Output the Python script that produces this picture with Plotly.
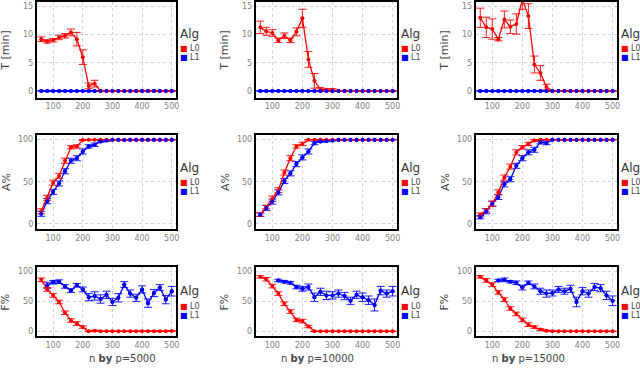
import plotly.graph_objects as go

# problem size n (x axis)
N = [60, 80, 100, 120, 140, 160, 180, 200, 220, 240, 260, 280,
     300, 320, 340, 360, 380, 400, 420, 440, 460, 480, 500]

P_LABELS = ["p=5000", "p=10000", "p=15000"]

# ---- T [min] ----
T_L0_5000 = [9.2, 8.8, 9.0, 9.5, 9.8, 10.4, 9.2, 6.0, 0.9, 1.3, 0, 0,
             0, 0, 0, 0, 0, 0, 0, 0, 0, 0, 0]
T_L0_5000_err = [0.4, 0.3, 0.3, 0.4, 0.4, 0.6, 1.2, 1.3, 0.5, 0.6, 0, 0,
                 0, 0, 0, 0, 0, 0, 0, 0, 0, 0, 0]
T_L0_10000 = [11.3, 10.6, 10.3, 9.0, 9.8, 9.0, 10.5, 12.9, 5.6, 1.8, 0.3, 0.2,
              0.2, 0.05, 0, 0, 0, 0, 0, 0, 0, 0, 0]
T_L0_10000_err = [1.1, 0.7, 0.6, 0.4, 0.5, 0.4, 0.7, 1.6, 1.4, 1.3, 0.3, 0.2,
                  0.2, 0.05, 0, 0, 0, 0, 0, 0, 0, 0, 0]
T_L0_15000 = [13.0, 11.3, 11.0, 9.2, 12.7, 11.4, 11.9, 16.3, 13.3, 4.7, 3.2, 0.7,
              0, 0, 0, 0, 0, 0, 0, 0, 0, 0, 0]
T_L0_15000_err = [1.7, 1.8, 1.8, 0.3, 1.5, 1.2, 1.8, 1.8, 2.2, 1.5, 1.3, 0.5,
                  0, 0, 0, 0, 0, 0, 0, 0, 0, 0, 0]
T_L1 = [0, 0, 0, 0, 0, 0, 0, 0, 0, 0, 0, 0,
        0, 0, 0, 0, 0, 0, 0, 0, 0, 0, 0]
T_L1_err = [0.05, 0.05, 0.05, 0.05, 0.05, 0.05, 0.05, 0.05, 0.05, 0.05, 0.05, 0.05,
            0.05, 0.05, 0.05, 0.05, 0.05, 0.05, 0.05, 0.05, 0.05, 0.05, 0.05]

# ---- A% ----
A_L0_5000 = [15, 31, 49, 57, 75, 91, 92, 99.6, 100, 100, 100, 100,
             100, 100, 100, 100, 100, 100, 100, 100, 100, 100, 100]
A_L0_5000_err = [3, 3, 3, 3, 3, 2, 2, 0.5, 0, 0, 0, 0,
                 0, 0, 0, 0, 0, 0, 0, 0, 0, 0, 0]
A_L1_5000 = [12, 27, 38, 48, 62.5, 75, 78, 86, 92, 94, 98, 99,
             100, 100, 99.5, 100, 100, 100, 100, 100, 100, 100, 100]
A_L1_5000_err = [3, 3, 3, 3, 3, 3, 3, 3, 2, 2, 1, 1,
                 0, 0, 0.5, 0, 0, 0, 0, 0, 0, 0, 0]
A_L0_10000 = [11, 20, 30, 40, 61, 78, 92, 95, 100, 100, 100, 100,
              100, 100, 100, 100, 100, 100, 100, 100, 100, 100, 100]
A_L0_10000_err = [2, 2, 3, 3, 3, 3, 2, 2, 0, 0, 0, 0,
                  0, 0, 0, 0, 0, 0, 0, 0, 0, 0, 0]
A_L1_10000 = [11, 19, 26.5, 37.5, 51, 60, 71, 79, 86, 96, 98, 98.5,
              99, 100, 100, 100, 100, 100, 100, 100, 100, 100, 100]
A_L1_10000_err = [2, 3, 3, 3, 3, 3, 3, 3, 3, 2, 1, 1,
                  0.5, 0, 0, 0, 0, 0, 0, 0, 0, 0, 0]
A_L0_15000 = [11, 16, 24, 37.5, 55, 68, 85, 91, 95, 99, 100, 100,
              100, 100, 100, 100, 100, 100, 100, 100, 100, 100, 100]
A_L0_15000_err = [2, 2, 3, 3, 3, 3, 3, 2, 2, 1, 0, 0,
                  0, 0, 0, 0, 0, 0, 0, 0, 0, 0, 0]
A_L1_15000 = [8, 15, 24, 32, 47, 53, 69, 78, 85, 88, 97, 96,
              100, 100, 100, 100, 100, 100, 100, 100, 100, 100, 100]
A_L1_15000_err = [2, 3, 3, 3, 3, 3, 3, 3, 3, 3, 2, 2,
                  0, 0, 0, 0, 0, 0, 0, 0, 0, 0, 0]

# ---- F% ----
F_L0_5000 = [86, 70, 60, 49, 31, 18, 13, 7, 0, 1, 0, 0,
             0, 0, 0, 0, 0, 0, 0, 0, 0, 0, 0.5]
F_L0_5000_err = [3, 3, 3, 3, 3, 3, 3, 2, 0.5, 1, 0, 0,
                 0, 0, 0, 0, 0, 0, 0, 0, 0, 0, 0.5]
F_L1_5000 = [None, 77, 82, 83, 75, 68, 77, 70, 57, 59, 54, 61,
             49, 56, 78, 63, 56, 70, 47, 64, 73, 53, 67]
F_L1_5000_err = [None, 5, 3, 3, 3, 3, 3, 4, 6, 7, 7, 6,
                 6, 7, 5, 6, 6, 6, 7, 6, 5, 7, 8]
F_L0_10000 = [91, 87, 75.5, 63, 46, 33, 19, 17, 8, 0, 0, 0,
              0, 0, 0, 0, 0, 0, 0, 0, 0, 0, 0]
F_L0_10000_err = [2, 3, 3, 3, 3, 3, 3, 3, 2, 0, 0, 0,
                  0, 0, 0, 0, 0, 0, 0, 0, 0, 0, 0]
F_L1_10000 = [None, None, None, 85, 83, 81, 74, 71, 74, 57, 66, 60,
              60, 63, 59, 51, 61, 57, 52, 44, 68, 63, 67]
F_L1_10000_err = [None, None, None, 2, 2, 2, 3, 4, 5, 7, 6, 7,
                  6, 6, 6, 6, 6, 7, 7, 10, 7, 6, 8]
F_L0_15000 = [91, 85, 78, 65, 53, 38, 29, 19, 11, 7, 3, 1,
              0, 0, 0, 0, 0, 0, 0, 0, 0, 0, 0]
F_L0_15000_err = [2, 3, 3, 3, 3, 3, 3, 3, 3, 2, 1.5, 1,
                  0, 0, 0, 0, 0, 0, 0, 0, 0, 0, 0]
F_L1_15000 = [None, None, None, 85, 86, 83, 81, 73, 81, 75, 67, 63,
              64, 70, 67, 71, 49, 67, 63, 74, 72, 60, 51]
F_L1_15000_err = [None, None, None, 2, 3, 2, 3, 4, 3, 4, 5, 6,
                  5, 5, 5, 6, 8, 6, 6, 6, 6, 7, 8]

ROWS = [
    ("T [min]", [-1.2, 15.8], [0, 5, 10, 15],
     [(T_L0_5000, T_L0_5000_err, T_L1, T_L1_err),
      (T_L0_10000, T_L0_10000_err, T_L1, T_L1_err),
      (T_L0_15000, T_L0_15000_err, T_L1, T_L1_err)]),
    ("A%", [-6.5, 106], [0, 50, 100],
     [(A_L0_5000, A_L0_5000_err, A_L1_5000, A_L1_5000_err),
      (A_L0_10000, A_L0_10000_err, A_L1_10000, A_L1_10000_err),
      (A_L0_15000, A_L0_15000_err, A_L1_15000, A_L1_15000_err)]),
    ("F%", [-8, 107], [0, 50, 100],
     [(F_L0_5000, F_L0_5000_err, F_L1_5000, F_L1_5000_err),
      (F_L0_10000, F_L0_10000_err, F_L1_10000, F_L1_10000_err),
      (F_L0_15000, F_L0_15000_err, F_L1_15000, F_L1_15000_err)]),
]

W, H = 640, 368
COL_PX = [(37, 177), (257, 399), (478, 620)]
ROW_PX = [(1, 97), (134, 229), (267, 336)]
LEGEND_Y = [33, 167, 291]   # pixel row of the "Alg" legend title per row
LABEL_X = [333, 250, 222]   # facet label centre, in x data units of each column
RED, BLUE = "#FF0000", "#0000FF"
FONT = "DejaVu Sans"

fig = go.Figure()
annotations = []

for r, (ytitle, yrange, yticks, panels) in enumerate(ROWS):
    for c, (l0, l0e, l1, l1e) in enumerate(panels):
        i = r * 3 + c + 1
        xa, ya = f"x{i}", f"y{i}"
        # blue first, red on top, then blue points again (lines under points)
        for vals, errs, col, mode in [(l1, l1e, BLUE, "lines+markers"),
                                      (l0, l0e, RED, "lines+markers"),
                                      (l1, None, BLUE, "markers")]:
            fig.add_trace(go.Scatter(
                x=N, y=vals, xaxis=xa, yaxis=ya, mode=mode,
                line=dict(color=col, width=1.3),
                marker=dict(color=col, size=4),
                error_y=dict(type="data", array=errs, color=col,
                             thickness=0.9, width=4, visible=errs is not None),
                showlegend=False,
            ))
        x0, x1 = COL_PX[c]
        y0, y1 = ROW_PX[r]
        axis_common = dict(showline=True, mirror=True, linecolor="black",
                           linewidth=2, showgrid=True, gridcolor="#cdd0e6",
                           griddash="dot", gridwidth=1, zeroline=False,
                           ticks="", tickfont=dict(size=8, color="#7f7f7f",
                                                   family=FONT))
        fig.layout[f"xaxis{i}"] = dict(
            domain=[x0 / W, x1 / W], anchor=ya, range=[45, 515],
            tickvals=[100, 200, 300, 400, 500], **axis_common)
        fig.layout[f"yaxis{i}"] = dict(
            domain=[1 - y1 / H, 1 - y0 / H], anchor=xa, range=yrange,
            tickvals=yticks, **axis_common)

        # y axis title
        annotations.append(dict(
            x=(x0 - 31) / W, y=1 - (y0 + y1) / 2 / H, xref="paper", yref="paper",
            xanchor="center", yanchor="middle",
            text=ytitle, textangle=-90, showarrow=False,
            font=dict(size=11, color="#444444", family=FONT)))
        # legend block
        ly = LEGEND_Y[r]
        annotations.append(dict(
            x=(x1 + 2) / W, y=1 - ly / H, xref="paper", yref="paper",
            xanchor="left", yanchor="middle", text="Alg", showarrow=False,
            font=dict(size=12, color="#333333", family=FONT)))
        for k, (name, col) in enumerate([("L0", RED), ("L1", BLUE)]):
            annotations.append(dict(
                x=(x1 + 2) / W, y=1 - (ly + 15 + 9 * k) / H,
                xref="paper", yref="paper", xanchor="left", yanchor="middle",
                text=f"<span style='color:{col}'>■</span> {name}",
                showarrow=False,
                font=dict(size=8, color="#444444", family=FONT)))

# facet labels under the bottom row
for c, lab in enumerate(P_LABELS):
    annotations.append(dict(
        x=LABEL_X[c], xref=f"x{7 + c}", y=1 - 358 / H, yref="paper",
        xanchor="center", yanchor="middle",
        text=f"n <b>by</b> {lab}", showarrow=False,
        font=dict(size=10, color="#444444", family=FONT)))

fig.update_layout(
    width=W, height=H, margin=dict(l=0, r=0, t=0, b=0),
    paper_bgcolor="white", plot_bgcolor="white",
    font=dict(family=FONT), annotations=annotations, showlegend=False,
)

fig.write_html("out.html", config={"displayModeBar": False},
               post_script="document.body.style.margin='0';")
